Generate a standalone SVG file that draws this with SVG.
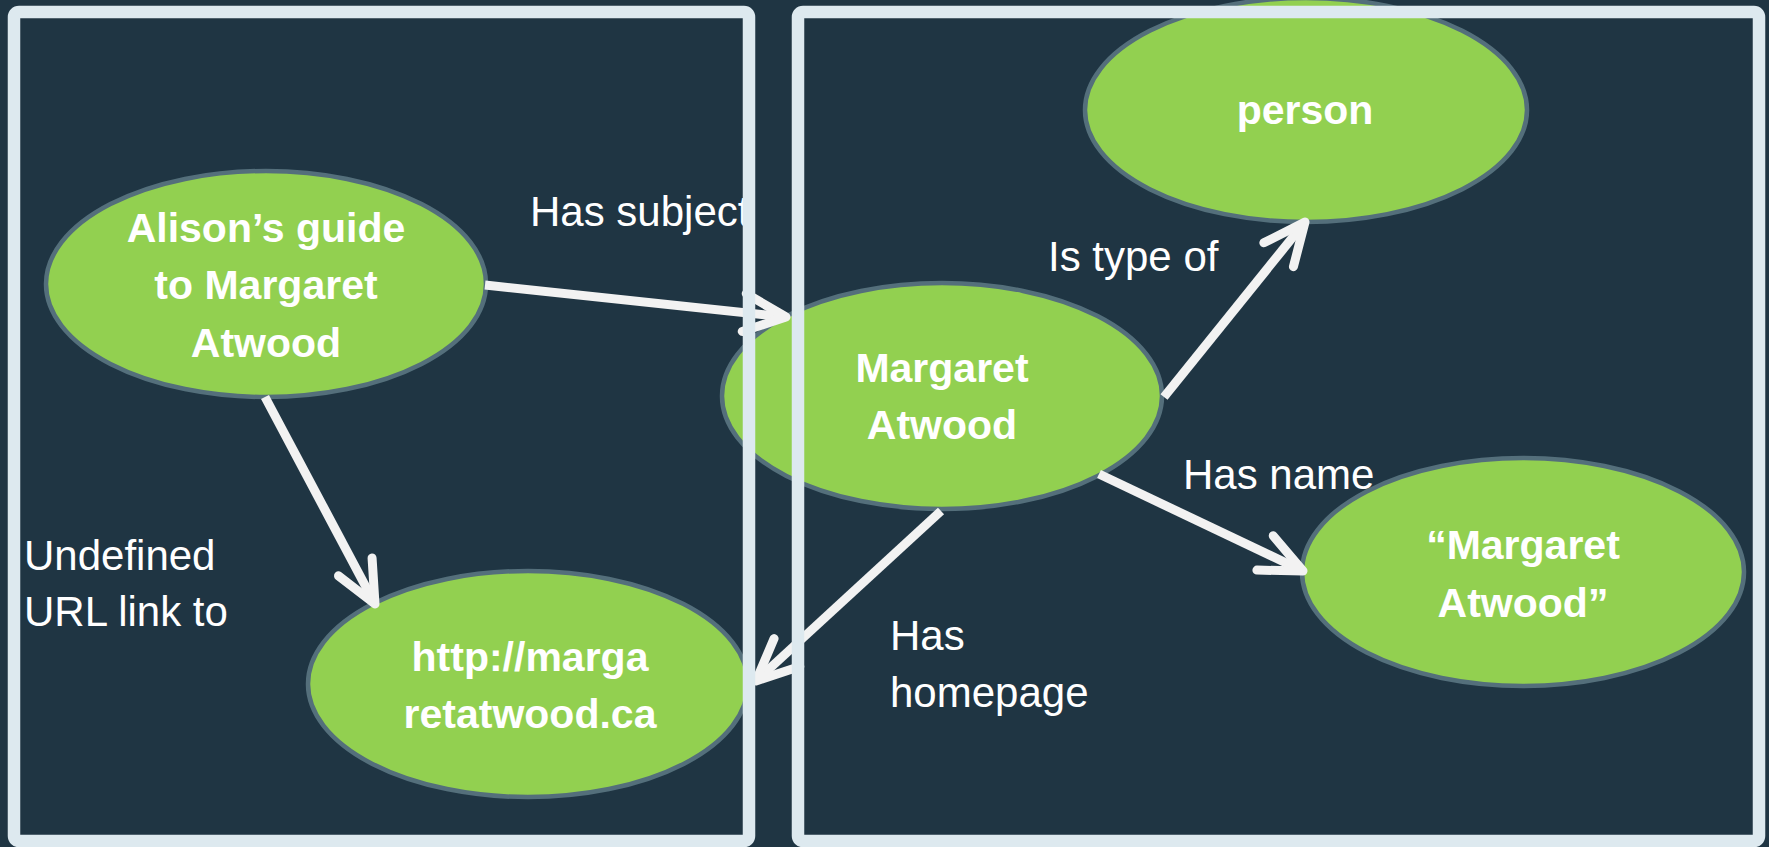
<svg xmlns="http://www.w3.org/2000/svg" width="1769" height="847" viewBox="0 0 1769 847">
  <defs>
    <style>
      .bg { fill: #1f3543; }
      .node ellipse { fill: #92d050; stroke: #546f7b; stroke-width: 4.5; }
      .node text { font-family: "Liberation Sans", Arial, sans-serif; font-weight: bold; font-size: 41px; fill: #ffffff; text-anchor: middle; }
      .edge { stroke: #f2f2f2; stroke-width: 9; fill: none; marker-end: url(#arrow); }
      .label { font-family: "Liberation Sans", Arial, sans-serif; font-size: 42px; fill: #ffffff; }
      .frame { fill: none; stroke: #dde9ef; stroke-width: 12.5; }
    </style>
    <marker id="arrow" markerUnits="userSpaceOnUse" viewBox="-50 -28 58 56" refX="0" refY="0" markerWidth="58" markerHeight="56" orient="auto" overflow="visible">
      <path d="M-42,-19 L0,0 L-42,19" fill="none" stroke="#f2f2f2" stroke-width="9" stroke-linecap="round" stroke-linejoin="round"/>
    </marker>
  </defs>

  <rect class="bg" x="0" y="0" width="1769" height="847"/>

  <g id="node-alison" class="node">
    <ellipse cx="266" cy="284" rx="220" ry="113"/>
    <text x="266" y="242">Alison’s guide</text>
    <text x="266" y="299">to Margaret</text>
    <text x="266" y="357">Atwood</text>
  </g>

  <g id="node-margaret" class="node">
    <ellipse cx="942" cy="396" rx="220" ry="113"/>
    <text x="942" y="382">Margaret</text>
    <text x="942" y="439">Atwood</text>
  </g>

  <g id="node-person" class="node">
    <ellipse cx="1306" cy="110" rx="221" ry="112"/>
    <text x="1305" y="124">person</text>
  </g>

  <g id="node-name" class="node">
    <ellipse cx="1523" cy="572" rx="221" ry="114"/>
    <text x="1523" y="559">“Margaret</text>
    <text x="1523" y="617">Atwood”</text>
  </g>

  <g id="node-url" class="node">
    <ellipse cx="528" cy="684" rx="220" ry="113"/>
    <text x="530" y="671">http://marga</text>
    <text x="530" y="728">retatwood.ca</text>
  </g>

  <g id="connectors">
    <path id="edge-subject" class="edge" d="M485,285 L786,317"/>
    <path id="edge-undefined" class="edge" d="M265,397 L375,604"/>
    <path id="edge-type" class="edge" d="M1164,397 L1305,222"/>
    <path id="edge-name" class="edge" d="M1099,474 L1303,571"/>
    <path id="edge-homepage" class="edge" d="M941,511 L756,681"/>
  </g>

  <g id="labels">
    <text class="label" x="530" y="226">Has subject</text>
    <text class="label" x="1048" y="271">Is type of</text>
    <text class="label" x="1183" y="489">Has name</text>
    <text class="label" x="890" y="650">Has</text>
    <text class="label" x="890" y="707">homepage</text>
    <text class="label" x="24" y="570">Undefined</text>
    <text class="label" x="24" y="626">URL link to</text>
  </g>

  <g id="frames">
    <rect id="frame-left" class="frame" x="14" y="12" width="735" height="829" rx="5"/>
    <rect id="frame-right" class="frame" x="798" y="12" width="961" height="829" rx="5"/>
  </g>
</svg>
